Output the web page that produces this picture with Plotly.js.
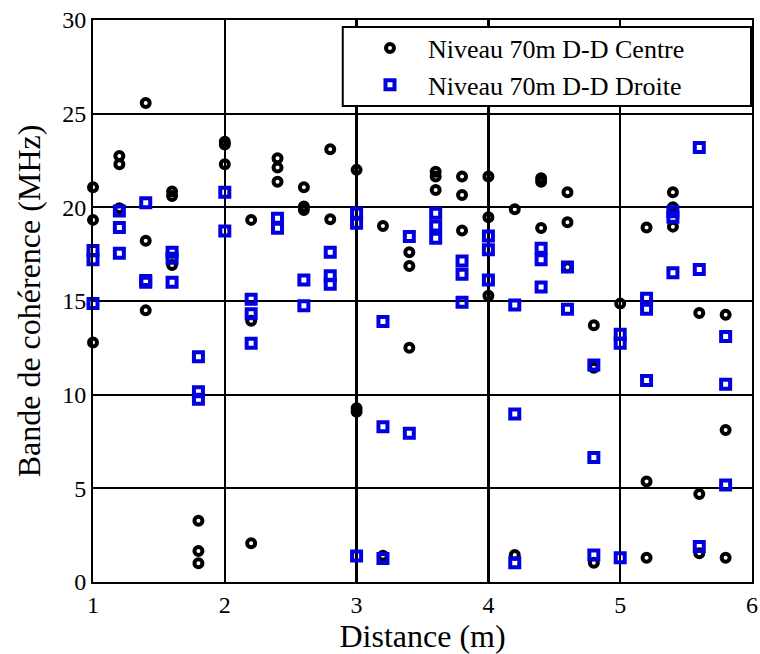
<!DOCTYPE html>
<html>
<head>
<meta charset="utf-8">
<script src="https://cdn.plot.ly/plotly-3.0.1.min.js"></script>
<style>html,body{margin:0;padding:0;background:#fff;}</style>
</head>
<body>
<div id="chart" style="width:760px;height:654px;"></div>
<script>
// Series: Niveau 70m D-D Centre (black circles)
const xCentre = [
  1, 1, 1,
  1.2, 1.2, 1.2,
  1.4, 1.4, 1.4,
  1.6, 1.6, 1.6,
  1.8, 1.8, 1.8,
  2, 2, 2,
  2.2, 2.2, 2.2,
  2.4, 2.4, 2.4,
  2.6, 2.6, 2.6,
  2.8, 2.8,
  3, 3, 3,
  3.2, 3.2,
  3.4, 3.4, 3.4,
  3.6, 3.6, 3.6,
  3.8, 3.8, 3.8,
  4, 4, 4,
  4.2, 4.2,
  4.4, 4.4, 4.4,
  4.6, 4.6, 4.6,
  4.8, 4.8, 4.8,
  5,
  5.2, 5.2, 5.2,
  5.4, 5.4, 5.4,
  5.6, 5.6, 5.6,
  5.8, 5.8, 5.8
];
const yCentre = [
  21.07, 19.33, 12.78,
  22.74, 22.3, 19.95,
  25.57, 18.22, 14.5,
  20.85, 20.6, 16.92,
  3.27, 1.66, 1.0,
  23.5, 23.35, 22.3,
  19.33, 13.95, 2.07,
  22.62, 22.12, 21.37,
  21.07, 20.04, 19.86,
  23.1, 19.36,
  22.0, 9.27, 9.09,
  19.0, 1.4,
  17.6, 16.87, 12.51,
  21.9, 21.64, 20.93,
  21.64, 20.66, 18.76,
  21.64, 19.47, 15.28,
  19.9, 1.44,
  21.55, 21.37, 18.9,
  20.8, 19.2, 16.8,
  13.7, 11.44, 1.03,
  14.86,
  18.92, 5.36, 1.3,
  20.8, 20.0, 18.97,
  14.36, 4.7, 1.53,
  14.27, 8.12, 1.3
];
// Series: Niveau 70m D-D Droite (blue squares)
const xDroite = [
  1, 1, 1,
  1.2, 1.2, 1.2,
  1.4, 1.4, 1.4,
  1.6, 1.6, 1.6,
  1.8, 1.8, 1.8,
  2, 2,
  2.2, 2.2, 2.2,
  2.4, 2.4,
  2.6, 2.6,
  2.8, 2.8, 2.8,
  3, 3, 3,
  3.2, 3.2, 3.2,
  3.4, 3.4,
  3.6, 3.6, 3.6,
  3.8, 3.8, 3.8,
  4, 4, 4,
  4.2, 4.2, 4.2,
  4.4, 4.4, 4.4,
  4.6, 4.6,
  4.8, 4.8, 4.8,
  5, 5, 5,
  5.2, 5.2, 5.2,
  5.4, 5.4, 5.4,
  5.6, 5.6, 5.6,
  5.8, 5.8, 5.8
];
const yDroite = [
  17.7, 17.2, 14.86,
  19.8, 18.92, 17.55,
  20.25, 16.1, 16.0,
  17.6, 17.28, 16.0,
  12.03, 10.16, 9.75,
  20.8, 18.74,
  15.1, 14.32, 12.74,
  19.42, 18.88,
  16.12, 14.74,
  17.6, 16.35, 15.89,
  19.68, 19.15, 1.39,
  13.9, 8.29, 1.25,
  18.44, 7.94,
  19.68, 19.0, 18.35,
  17.14, 16.43, 14.93,
  18.47, 17.73, 16.12,
  14.79, 8.97, 1.03,
  17.82, 17.2, 15.75,
  16.82, 14.56,
  11.59, 6.64, 1.44,
  13.22, 12.74, 1.3,
  15.15, 14.56, 10.75,
  19.77, 19.47, 16.51,
  23.19, 16.68, 1.89,
  13.1, 10.56, 5.18
];
const seriesNames = ["Niveau 70m D-D Centre", "Niveau 70m D-D Droite"];
const xTicks = [1, 2, 3, 4, 5, 6];
const yTicks = [0, 5, 10, 15, 20, 25, 30];

const FONT = "Liberation Serif";

const traces = [
  {
    type: "scatter", mode: "markers", x: xCentre, y: yCentre, name: seriesNames[0],
    legendgroup: "a", cliponaxis: false,
    marker: { symbol: "circle-open", size: 8, color: "#000", line: { width: 4, color: "#000" } }
  },
  {
    type: "scatter", mode: "markers", x: xDroite, y: yDroite, name: seriesNames[1],
    legendgroup: "b", cliponaxis: false,
    marker: { symbol: "square-open", size: 9, color: "rgb(0,0,225)", line: { width: 4, color: "rgb(0,0,225)" } }
  }
];

const layout = {
  width: 760, height: 654,
  margin: { l: 93, r: 8, t: 20, b: 72 },
  paper_bgcolor: "#fff", plot_bgcolor: "#fff",
  font: { family: FONT, color: "#000" },
  showlegend: true,
  legend: {
    x: 0.393, y: 0.992, xanchor: "left", yanchor: "top",
    bgcolor: "rgba(0,0,0,0)", borderwidth: 0,
    font: { family: FONT, size: 26, color: "#000" },
    itemwidth: 66,
    tracegroupgap: 0, traceorder: "grouped"
  },
  xaxis: {
    range: [1, 6], tickvals: xTicks, ticktext: xTicks.map(String),
    showgrid: true, gridcolor: "#000", gridwidth: 2.5,
    showline: true, linecolor: "#000", linewidth: 2, mirror: true,
    ticks: "", zeroline: false,
    tickfont: { family: FONT, size: 24, color: "#000" },
    title: { text: "Distance (m)", font: { family: FONT, size: 32, color: "#000" }, standoff: 8 }
  },
  yaxis: {
    range: [0, 30], tickvals: yTicks, ticktext: yTicks.map(String),
    showgrid: true, gridcolor: "#000", gridwidth: 1.8,
    showline: true, linecolor: "#000", linewidth: 2, mirror: true,
    ticks: "", zeroline: false,
    tickfont: { family: FONT, size: 24, color: "#000" },
    title: { text: "Bande de cohérence (MHz)", font: { family: FONT, size: 32, color: "#000" }, standoff: 12 }
  },
  shapes: [
    {
      type: "rect", xref: "paper", yref: "paper", layer: "above",
      x0: 0.379, x1: 0.9985, y0: 0.847, y1: 0.9875,
      fillcolor: "#fff", line: { color: "#000", width: 2 }
    }
  ]
};

Plotly.newPlot("chart", traces, layout, { displayModeBar: false, staticPlot: true });
</script>
</body>
</html>
